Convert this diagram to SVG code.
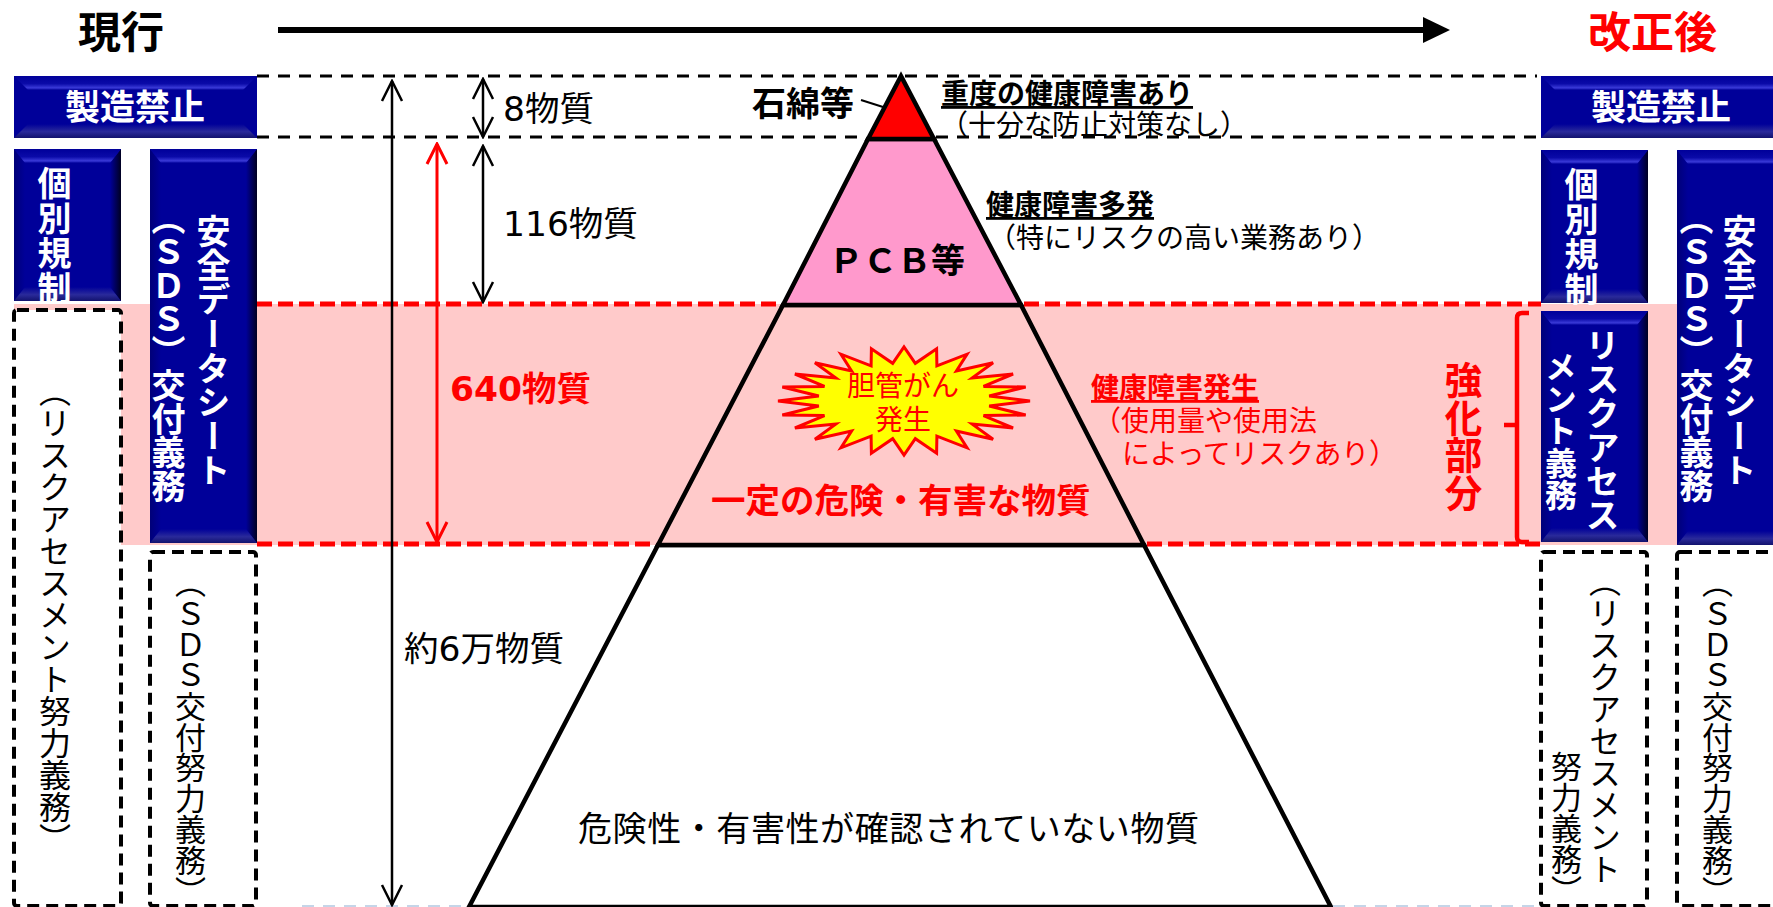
<svg xmlns="http://www.w3.org/2000/svg" width="1773" height="907" viewBox="0 0 1773 907">
<style>
text{font-family:"DejaVu Sans","Noto Sans CJK JP",sans-serif;fill:#000}
.v{writing-mode:vertical-rl}
.w{fill:#fff;font-weight:700;font-size:34px}
.d{font-size:32px}
.d2{font-size:31px;letter-spacing:-.15px}
.r{fill:#f00}
.b{font-weight:700}
.u{text-decoration:underline}
.t28{font-size:28px}
.t34{font-size:34.5px}
.base{fill:#000099}
.top{fill:url(#gt)}.bot{fill:url(#gb)}.lef{fill:url(#gl)}.rig{fill:url(#gr)}
.box{fill:#fff;stroke:#000;stroke-width:4;stroke-dasharray:12 7}
.dk{stroke:#000;stroke-width:3;stroke-dasharray:12 9;fill:none}
.dr{stroke:#f00;stroke-width:5;stroke-dasharray:15 6;fill:none}
.tri{stroke:#000;stroke-width:4.5;stroke-linejoin:miter}
</style>
<defs>
<linearGradient id="gt" x1="0" y1="0" x2="0" y2="1"><stop offset="0" stop-color="#000099"/><stop offset=".55" stop-color="#0a0aa8"/><stop offset=".85" stop-color="#3a3ad8"/><stop offset="1" stop-color="#000099"/></linearGradient>
<linearGradient id="gb" x1="0" y1="0" x2="0" y2="1"><stop offset="0" stop-color="#000099"/><stop offset=".55" stop-color="#2a2a9a"/><stop offset="1" stop-color="#12126e"/></linearGradient>
<linearGradient id="gl" x1="0" y1="0" x2="1" y2="0"><stop offset="0" stop-color="#000078"/><stop offset="1" stop-color="#000099"/></linearGradient>
<linearGradient id="gr" x1="0" y1="0" x2="1" y2="0"><stop offset="0" stop-color="#000099"/><stop offset="1" stop-color="#000020"/></linearGradient>
<marker id="ch" viewBox="-22 -12 24 24" markerWidth="24" markerHeight="24" refX="0" refY="0" markerUnits="userSpaceOnUse" orient="auto-start-reverse"><path d="M-20-10L0 0-20 10" fill="none" stroke="#000" stroke-width="2.5"/></marker>
<marker id="chr" viewBox="-22 -12 24 24" markerWidth="24" markerHeight="24" refX="0" refY="0" markerUnits="userSpaceOnUse" orient="auto-start-reverse"><path d="M-20-10L0 0-20 10" fill="none" stroke="#f00" stroke-width="3"/></marker>
<marker id="big" viewBox="0 0 28 28" markerWidth="28" markerHeight="28" refX="1" refY="14" markerUnits="userSpaceOnUse" orient="auto"><path d="M0 1L27 14 0 27z" fill="#000"/></marker>
</defs>

<rect id="band" x="14" y="304" width="1759" height="241" fill="#ffcaca"/>

<g id="pyramid-bottom"><polygon class="tri" points="658,545 1144,545 1331,907 469,907" fill="#fff"/><text x="578" y="841" font-size="34" textLength="621">危険性・有害性が確認されていない物質</text></g>
<g id="pyramid-band"><polygon class="tri" points="783,305 1021,305 1144,545 658,545" fill="#ffcaca"/><text class="r b t34" x="711" y="513">一定の危険・有害な物質</text></g>
<g id="pyramid-pcb"><polygon class="tri" points="868,139 934,139 1021,305 783,305" fill="#ff99cc"/><text class="b" x="829" y="273" font-size="34">ＰＣＢ等</text></g>
<g id="pyramid-top"><polygon class="tri" points="901,76 934,139 868,139" fill="#f00"/></g>

<g id="guides">
<line class="dk" x1="257" y1="76" x2="897" y2="76"/><line class="dk" x1="905" y1="76" x2="1537" y2="76"/>
<line class="dk" x1="257" y1="137" x2="866" y2="137"/><line class="dk" x1="936" y1="137" x2="1537" y2="137"/>
<line class="dr" x1="257" y1="304" x2="782" y2="304"/><line class="dr" x1="1024" y1="304" x2="1541" y2="304"/>
<line class="dr" x1="257" y1="544" x2="656" y2="544"/><line class="dr" x1="1147" y1="544" x2="1541" y2="544"/>
<line x1="302" y1="906" x2="467" y2="906" stroke="#c5d5e8" stroke-width="2" stroke-dasharray="12 9"/>
<line x1="1333" y1="906" x2="1541" y2="906" stroke="#c5d5e8" stroke-width="2" stroke-dasharray="12 9"/>
</g>

<g id="connectors">
<line x1="278" y1="30" x2="1424" y2="30" stroke="#000" stroke-width="6" marker-end="url(#big)"/>
<line x1="392" y1="81" x2="392" y2="905" stroke="#000" stroke-width="2.5" marker-start="url(#ch)" marker-end="url(#ch)"/>
<line x1="437" y1="144" x2="437" y2="542" stroke="#f00" stroke-width="3" marker-start="url(#chr)" marker-end="url(#chr)"/>
<line x1="483" y1="79" x2="483" y2="137" stroke="#000" stroke-width="2.5" marker-start="url(#ch)" marker-end="url(#ch)"/>
<line x1="483" y1="146" x2="483" y2="302" stroke="#000" stroke-width="2.5" marker-start="url(#ch)" marker-end="url(#ch)"/>
<line x1="861" y1="100" x2="883" y2="107" stroke="#000" stroke-width="2"/>
<path d="M1529 313H1522Q1517 313 1517 318V537Q1517 542 1522 542H1529M1504 425H1517" fill="none" stroke="#f00" stroke-width="4.5"/>
</g>

<g id="title-current"><text class="b" x="78" y="48" font-size="43">現行</text></g>
<g id="title-revised"><text class="r b" x="1588" y="48" font-size="43">改正後</text></g>

<g id="label-8"><text class="t34" x="503" y="121">8物質</text></g>
<g id="label-116"><text class="t34" x="503" y="236">116物質</text></g>
<g id="label-640"><text class="r b t34" x="450" y="401">640物質</text></g>
<g id="label-60000"><text class="t34" x="404" y="661">約6万物質</text></g>
<g id="label-asbestos"><text class="b" x="752" y="116" font-size="34">石綿等</text></g>
<g id="label-severe"><text class="b u t28" x="941" y="104">重度の健康障害あり</text><text class="t28" x="940" y="135">（十分な防止対策なし）</text></g>
<g id="label-frequent"><text class="b u t28" x="986" y="215">健康障害多発</text><text class="t28" x="988" y="248">（特にリスクの高い業務あり）</text></g>
<g id="label-occurs"><text class="r b u t28" x="1091" y="398">健康障害発生</text><text class="r t28" x="1093" y="431">（使用量や使用法</text><text class="r t28" x="1122" y="464" textLength="275">によってリスクあり）</text></g>

<g id="burst"><polygon transform="translate(904 401)" fill="#ff0" stroke="#f00" stroke-width="3" points="126,0 85.2,5 121.7,14 79.5,14.6 109.1,27 68.2,23.1 89.1,38.2 52.4,30.1 63,46.8 32.9,35.1 32.6,52.2 11.3,37.7 0,54 -11.3,37.7 -32.6,52.2 -32.9,35.1 -63,46.8 -52.4,30.1 -89.1,38.2 -68.2,23.1 -109.1,27 -79.5,14.6 -121.7,14 -85.2,5 -126,0 -85.2,-5 -121.7,-14 -79.5,-14.6 -109.1,-27 -68.2,-23.1 -89.1,-38.2 -52.4,-30.1 -63,-46.8 -32.9,-35.1 -32.6,-52.2 -11.3,-37.7 0,-54 11.3,-37.7 32.6,-52.2 32.9,-35.1 63,-46.8 52.4,-30.1 89.1,-38.2 68.2,-23.1 109.1,-27 79.5,-14.6 121.7,-14 85.2,-5"/><text class="r t28" x="903" y="396" text-anchor="middle">胆管がん</text><text class="r t28" x="903" y="430" text-anchor="middle">発生</text></g>

<g id="label-strengthened"><text class="v r b" x="1460" y="361" font-size="37.5">強化部分</text></g>

<g id="btn-ban-left"><rect class="base" x="14" y="76" width="243" height="62"/><polygon class="top" points="14,76 257,76 243,90 28,90"/><polygon class="bot" points="14,138 257,138 243,124 28,124"/><text class="w" x="135" y="120" text-anchor="middle" style="font-size:35px">製造禁止</text></g>
<g id="btn-indiv-left"><rect class="base" x="14" y="149" width="107" height="152"/><polygon class="lef" points="14,149 25,163 25,287 14,301"/><polygon class="rig" points="121,149 110,163 110,287 121,301"/><polygon class="top" points="14,149 121,149 110,163 25,163"/><polygon class="bot" points="14,301 121,301 110,287 25,287"/><text class="v w" x="52" y="166" style="letter-spacing:1px">個別規制</text></g>
<g id="btn-sds-left"><rect class="base" x="150" y="149" width="107" height="394"/><polygon class="lef" points="150,149 161,163 161,529 150,543"/><polygon class="rig" points="257,149 246,163 246,529 257,543"/><polygon class="top" points="150,149 257,149 246,163 161,163"/><polygon class="bot" points="150,543 257,543 246,529 161,529"/><text class="v w" x="211" y="214" style="letter-spacing:.2px">安全データシート</text><text class="v w" x="166" y="201" style="letter-spacing:-.5px">（ＳＤＳ）交付義務</text></g>
<g id="box-ra-left"><rect class="box" x="14" y="310" width="107" height="596" rx="3"/><text class="v d" x="52" y="375">（リスクアセスメント努力義務）</text></g>
<g id="box-sds-left"><rect class="box" x="150" y="552" width="106" height="354" rx="3"/><text class="v d2" x="188" y="567">（ＳＤＳ交付努力義務）</text></g>

<g id="btn-ban-right"><rect class="base" x="1541" y="76" width="232" height="62"/><polygon class="top" points="1541,76 1773,76 1773,90 1555,90"/><polygon class="bot" points="1541,138 1773,138 1773,124 1555,124"/><text class="w" x="1661" y="120" text-anchor="middle" style="font-size:35px">製造禁止</text></g>
<g id="btn-indiv-right"><rect class="base" x="1541" y="150" width="107" height="153"/><polygon class="lef" points="1541,150 1552,164 1552,289 1541,303"/><polygon class="rig" points="1648,150 1637,164 1637,289 1648,303"/><polygon class="top" points="1541,150 1648,150 1637,164 1552,164"/><polygon class="bot" points="1541,303 1648,303 1637,289 1552,289"/><text class="v w" x="1579" y="167" style="letter-spacing:1px">個別規制</text></g>
<g id="btn-ra-right"><rect class="base" x="1541" y="311" width="107" height="231"/><polygon class="lef" points="1541,311 1552,325 1552,528 1541,542"/><polygon class="rig" points="1648,311 1637,325 1637,528 1648,542"/><polygon class="top" points="1541,311 1648,311 1637,325 1552,325"/><polygon class="bot" points="1541,542 1648,542 1637,528 1552,528"/><text class="v w" x="1600" y="328">リスクアセス</text><text class="v w" x="1558" y="351" style="font-size:32px">メント義務</text></g>
<g id="btn-sds-right"><rect class="base" x="1677" y="150" width="96" height="395"/><polygon class="lef" points="1677,150 1688,164 1688,531 1677,545"/><polygon class="top" points="1677,150 1773,150 1773,164 1688,164"/><polygon class="bot" points="1677,545 1773,545 1773,531 1688,531"/><text class="v w" x="1737" y="214" style="letter-spacing:.2px">安全データシート</text><text class="v w" x="1694" y="201" style="letter-spacing:-.5px">（ＳＤＳ）交付義務</text></g>
<g id="box-ra-right"><rect class="box" x="1541" y="552" width="106" height="354" rx="3"/><text class="v d" x="1602" y="565">（リスクアセスメント</text><text class="v d2" x="1564" y="751">努力義務）</text></g>
<g id="box-sds-right"><rect class="box" x="1677" y="552" width="110" height="354" rx="3"/><text class="v d2" x="1715" y="567">（ＳＤＳ交付努力義務）</text></g>
</svg>
